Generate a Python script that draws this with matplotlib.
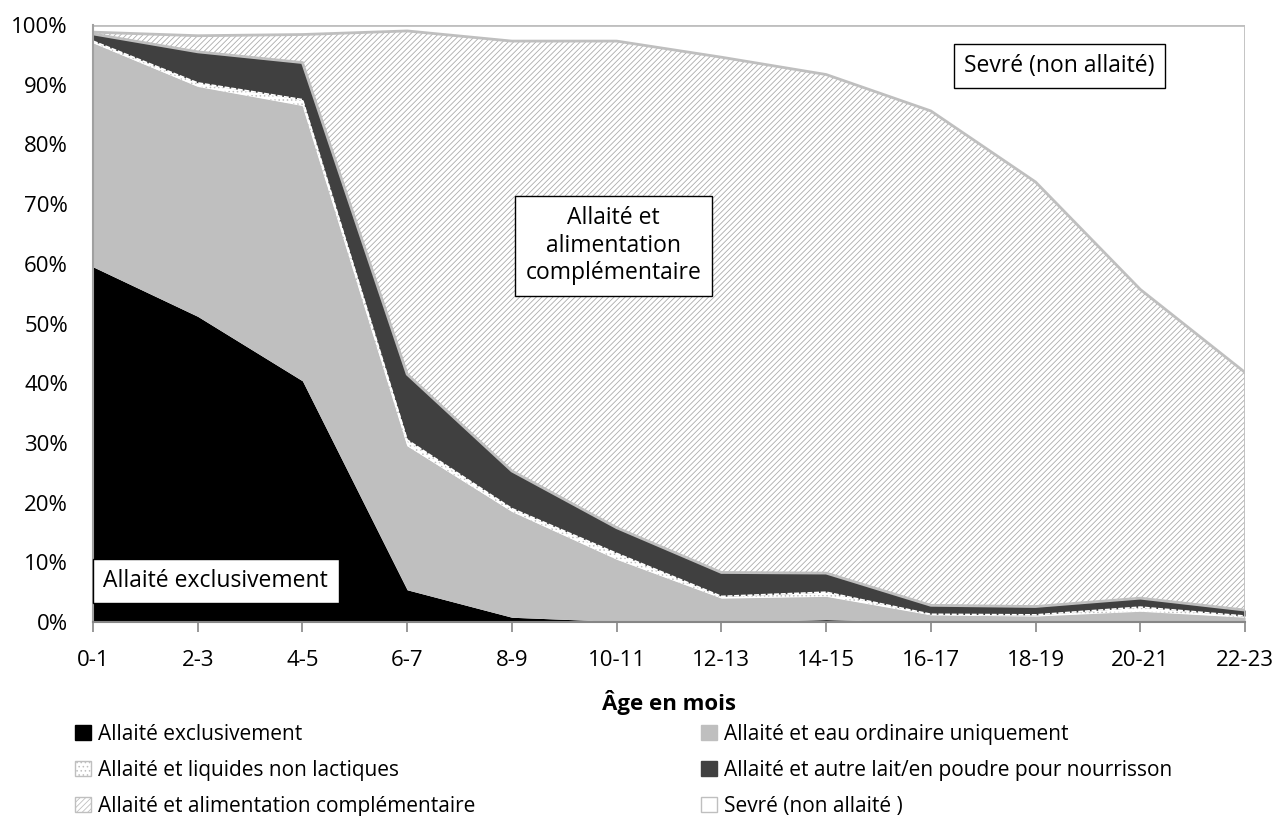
import numpy as np
import matplotlib.pyplot as plt
from matplotlib.patches import Patch

plt.rcParams['font.family'] = ['Open Sans', 'DejaVu Sans']
plt.rcParams['hatch.linewidth'] = 0.6

ages = ['0-1', '2-3', '4-5', '6-7', '8-9', '10-11', '12-13', '14-15',
        '16-17', '18-19', '20-21', '22-23']
exclusif = [59.5, 51.2, 40.4, 5.4, 0.8, 0.1, 0.0, 0.4, 0.0, 0.0, 0.0, 0.0]
eau = [37.5, 38.5, 46.1, 24.1, 17.7, 10.4, 4.0, 3.9, 1.2, 1.0, 1.8, 0.8]
liquides = [0.3, 0.6, 1.0, 1.0, 0.5, 1.0, 0.3, 0.7, 0.1, 0.2, 0.7, 0.2]
autre_lait = [1.2, 5.2, 6.2, 11.0, 6.3, 4.3, 4.0, 3.2, 1.5, 1.4, 1.5, 1.0]
complement = [0.3, 2.7, 4.7, 57.5, 72.0, 81.5, 86.3, 83.5, 82.8, 71.1, 51.7, 39.8]
sevre = [1.2, 1.8, 1.6, 1.0, 2.7, 2.7, 5.4, 8.3, 14.4, 26.3, 44.3, 58.2]

noms = ['Allaité exclusivement', 'Allaité et eau ordinaire uniquement',
        'Allaité et liquides non lactiques',
        'Allaité et autre lait/en poudre pour nourrisson',
        'Allaité et alimentation complémentaire', 'Sevré (non allaité )']

# style de chaque couche : (couleur de fond, motif, couleur du motif)
styles = [('#000000', None, '#000000'),
          ('#BFBFBF', None, '#BFBFBF'),
          ('#FFFFFF', '....', '#BFBFBF'),
          ('#404040', None, '#404040'),
          ('#FFFFFF', '//////', '#ABABAB'),
          ('#FFFFFF', None, '#FFFFFF')]

series = np.array([exclusif, eau, liquides, autre_lait, complement, sevre]) / 100.0
tops = np.cumsum(series, axis=0)
x = np.arange(len(ages))

fig = plt.figure(figsize=(12.77, 8.16), dpi=100)
ax = fig.add_axes([0.0728, 0.2377, 0.9022, 0.7317])

bas = np.zeros(len(ages))
for i in range(len(series)):
    fc, hatch, hc = styles[i]
    ax.fill_between(x, bas, tops[i], facecolor=fc, hatch=hatch, edgecolor=hc,
                    linewidth=0)
    bas = tops[i]

# bordures grises des couches
grey = '#BFBFBF'
for i in [3, 4, 5]:
    ax.plot(x, tops[i], color=grey, lw=2, solid_joinstyle='miter')
ax.plot(x, tops[2], color='white', lw=1.2, ls=(0, (3, 1)))
ax.plot([x[-1], x[-1]], [0, 1], color=grey, lw=2)

ax.set_xlim(0, len(ages) - 1)
ax.set_ylim(0, 1)
ax.set_xticks(x)
ax.set_xticklabels(ages, fontsize=16)
ax.set_yticks(np.arange(0, 1.01, 0.1))
ax.set_yticklabels(['%d%%' % v for v in range(0, 101, 10)], fontsize=16)
ax.tick_params(axis='x', length=7, color='#868686', width=1.2, pad=13)
ax.tick_params(axis='y', length=0, pad=18)
for s in ['top', 'right']:
    ax.spines[s].set_visible(False)
ax.spines['left'].set_color('#A0A0A0')
ax.spines['left'].set_linewidth(1.5)
ax.spines['bottom'].set_color('#868686')
ax.spines['bottom'].set_linewidth(1.5)
ax.set_xlabel('Âge en mois', fontsize=16, fontweight='bold', labelpad=14)

boite = dict(boxstyle='square,pad=0.45', fc='white', ec='black', lw=1)
ax.text(0.1, 0.069, 'Allaité exclusivement', fontsize=16.5, va='center',
        ha='left', bbox=boite)
ax.text(4.97, 0.63, 'Allaité et\nalimentation\ncomplémentaire', fontsize=16.5,
        va='center', ha='center', multialignment='center', bbox=boite,
        linespacing=1.2)
ax.text(9.23, 0.931, 'Sevré (non allaité)', fontsize=16.5, va='center',
        ha='center', bbox=boite)

handles = []
for i in range(len(noms)):
    fc, hatch, hc = styles[i]
    ec = grey if i in (2, 4, 5) else fc
    handles.append(Patch(facecolor=fc, hatch=hatch, edgecolor=ec, label=noms[i]))
ordre = [0, 2, 4, 1, 3, 5]
fig.legend([handles[k] for k in ordre], [noms[k] for k in ordre], ncol=2,
           loc='upper left', bbox_to_anchor=(0.0587, 0.113), frameon=False,
           fontsize=15, handlelength=0.75, handleheight=0.7, handletextpad=0.35,
           labelspacing=0.72, columnspacing=10.83, borderpad=0, borderaxespad=0)

fig.savefig('out.png', dpi=100)
